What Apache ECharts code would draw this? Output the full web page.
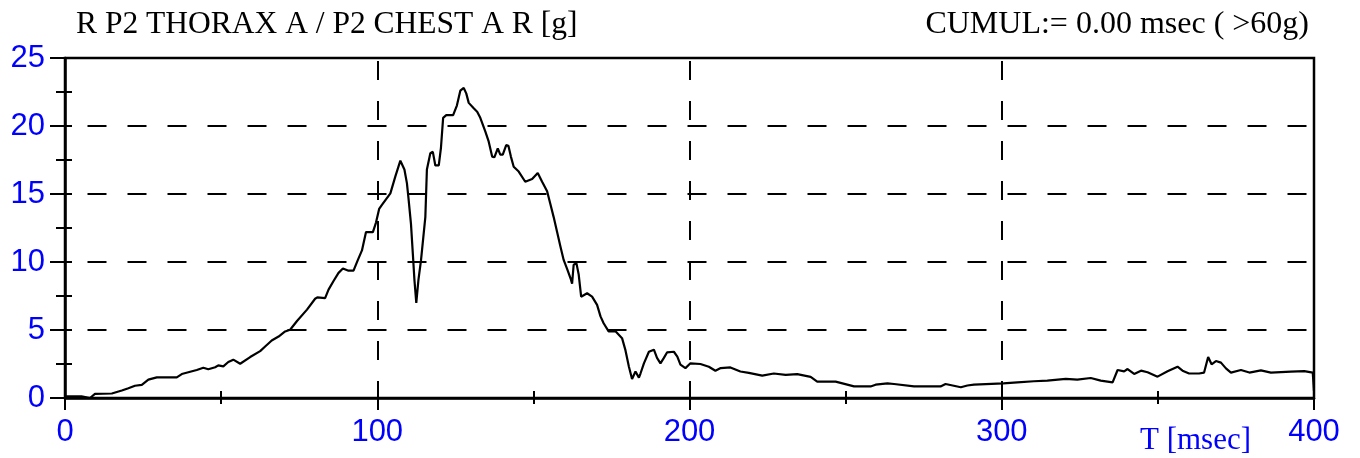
<!DOCTYPE html>
<html>
<head>
<meta charset="utf-8">
<script src="https://cdn.jsdelivr.net/npm/echarts@6/dist/echarts.min.js"></script>
<style>
  html, body { margin: 0; padding: 0; background: #ffffff; }
  #chart { width: 1360px; height: 458px; }
</style>
</head>
<body>
<div id="chart"></div>
<script>
// Chest acceleration trace: time in msec, resultant acceleration in g
const timeMs = [
  0, 5.3, 8, 9.6, 15, 15.5, 18.2, 20.3, 22.4, 24.6, 26.7, 29.4, 35.8, 37.4, 40.1, 42.2, 44.3,
  45.9, 48.1, 49.1, 50.7, 52.3, 53.9, 56.1, 59.3, 62.5, 64.1, 66.2, 68.4, 70.5, 72.1, 74.3,
  77.5, 80.1, 80.8, 83.3, 84.4, 86, 87.6, 89, 90.8, 92.4, 93.7, 95.1, 96.4, 98.6, 99.6, 100.6,
  101.5, 104.2, 105.8, 107.4, 108.7, 109.5, 110, 110.8, 111.4, 111.9, 112.5, 113.2, 114,
  115.4, 115.9, 117, 117.8, 118.6, 119.7, 120.4, 121.1, 122.1, 124.3, 125.5, 126.6, 127.7,
  128.5, 129.3, 130.9, 132, 133, 134.6, 135.7, 136.8, 137.5, 138.6, 139.4, 140.2, 141.3, 142,
  142.8, 143.7, 145.3, 147.4, 149.6, 151.4, 152.8, 154.4, 155.4, 156.5, 157.6, 158.7, 159.7,
  160.8, 161.9, 162.4, 162.9, 163.8, 164.5, 165.3, 167.2, 168.8, 170.4, 171.5, 172.5, 174.1,
  176.3, 178.4, 179.5, 180.6, 181.6, 182.7, 183.8, 184.3, 185.4, 187, 188.6, 189.6, 190.7,
  191.8, 192.8, 195, 196.1, 197.1, 198.7, 200.3, 203.5, 206.2, 208.3, 210, 213.1, 216.3,
  219, 223.3, 227, 230.8, 234.5, 238.8, 240.9, 246.8, 252.7, 258, 259.6, 263.4, 265.5,
  271.9, 280.4, 282, 286.9, 289, 291.1, 300.5, 305, 310.3, 314.6, 320.5, 324.2, 328.5,
  331.7, 335.5, 337.1, 339.2, 340.3, 342.4, 344.6, 346.7, 349.9, 353.1, 356.3, 357.9, 360,
  363.2, 364.8, 366.1, 367.2, 368.6, 370.2, 371.8, 373.4, 376.6, 379.3, 383, 386.2, 392.6,
  396.9, 399.6, 400
];
const accelG = [
  0.12, 0.12, 0.0, 0.3, 0.33, 0.47, 0.55, 0.72, 0.9, 0.97, 1.35, 1.52, 1.52, 1.76, 1.93, 2.06, 2.23,
  2.11, 2.26, 2.4, 2.33, 2.65, 2.82, 2.52, 3.01, 3.45, 3.79, 4.23, 4.52, 4.89, 5.02, 5.66,
  6.5, 7.3, 7.4, 7.35, 7.97, 8.6, 9.2, 9.52, 9.36, 9.36, 10.1, 10.85, 12.2, 12.2, 12.9, 13.9,
  14.2, 15.05, 16.3, 17.45, 16.8, 15.8, 14.7, 12.8, 10.6, 8.7, 7.0, 8.7, 10.1,
  13.3, 16.8, 18.0, 18.1, 17.1, 17.1, 18.4, 20.6, 20.8, 20.8, 21.5, 22.6, 22.8,
  22.4, 21.7, 21.3, 21.05, 20.6, 19.6, 18.85, 17.75, 17.7, 18.35, 17.9, 17.9, 18.6, 18.55,
  17.75, 17.0, 16.65, 15.9, 16.1, 16.55, 15.9, 15.2, 14.3, 13.3, 12.2, 11.1, 10.15,
  9.5, 8.8, 8.4, 9.8, 9.9, 9.1, 7.45, 7.7, 7.45, 6.85, 6.0, 5.5, 4.9,
  4.9, 4.4, 3.5, 2.3, 1.4, 1.95, 1.5, 1.8, 2.55, 3.4, 3.55, 2.95, 2.55,
  2.95, 3.35, 3.4, 3.05, 2.45, 2.2, 2.55, 2.5, 2.3, 2.0, 2.2, 2.25, 1.95,
  1.85, 1.65, 1.8, 1.7, 1.75, 1.55, 1.2, 1.2, 0.85, 0.85, 0.98, 1.08, 1.03,
  0.85, 0.85, 1.03, 0.79, 0.92, 0.98, 1.08, 1.15, 1.23, 1.28, 1.4, 1.35, 1.47,
  1.28, 1.15, 2.06, 1.96, 2.13, 1.77, 2.01, 1.89, 1.57, 1.96, 2.3, 2.01, 1.8,
  1.8, 1.87, 3.02, 2.48, 2.72, 2.6, 2.18, 1.87, 2.06, 1.87, 2.03, 1.87, 1.94,
  1.98, 1.87, 0.5
];

// Axis tick layout
const xTicks = { min: 0, max: 400, major: 100, minor: 50 };
const yTicks = { min: 0, max: 25, major: 5, minor: 2.5 };

const titleLeft = 'R P2 THORAX A / P2 CHEST A R [g]';
const titleRight = 'CUMUL:= 0.00 msec ( >60g)';
const xAxisName = 'T [msec]';

const BLUE = '#0000ff';
const serif = 'Liberation Serif, Times New Roman, serif';
const sans = 'Liberation Sans, Arial, sans-serif';

const seriesData = timeMs.map((t, i) => [t, accelG[i]]);

const chart = echarts.init(document.getElementById('chart'), null, { renderer: 'canvas' });

const dashed = { color: '#000', width: 2, type: [19, 21] };
const tickStyle = { color: '#000', width: 2 };

chart.setOption({
  animation: false,
  backgroundColor: '#ffffff',
  title: [
    { text: titleLeft, left: 76, top: 9, padding: 0,
      textStyle: { fontFamily: serif, fontSize: 31.5, fontWeight: 'normal', color: '#000' } },
    { text: titleRight, right: 51, top: 9, padding: 0,
      textStyle: { fontFamily: serif, fontSize: 32, fontWeight: 'normal', color: '#000' } },
    { text: xAxisName, left: 1140, top: 425, padding: 0,
      textStyle: { fontFamily: serif, fontSize: 31, fontWeight: 'normal', color: BLUE } }
  ],
  grid: {
    left: 65, right: 46, top: 58, bottom: 60,
    show: true, borderColor: '#000', borderWidth: 2.5, backgroundColor: 'transparent'
  },
  xAxis: [
    {
      type: 'value', min: xTicks.min, max: xTicks.max, interval: xTicks.major,
      position: 'bottom',
      axisLine: { show: true, onZero: false, lineStyle: { color: '#000', width: 2.5 } },
      axisTick: { show: true, length: 12, lineStyle: tickStyle },
      minorTick: { show: true, splitNumber: 2, length: 6, lineStyle: tickStyle },
      axisLabel: { color: BLUE, fontFamily: sans, fontSize: 31, margin: 19 },
      splitLine: { show: true, showMinLine: false, showMaxLine: false,
        lineStyle: Object.assign({ dashOffset: 37 }, dashed) }
    },
    {
      // inner half of the crossing ticks
      type: 'value', min: xTicks.min, max: xTicks.max, interval: xTicks.minor,
      position: 'bottom',
      axisLine: { show: false, onZero: false },
      axisTick: { show: true, inside: true, length: 7, lineStyle: tickStyle },
      axisLabel: { show: false },
      splitLine: { show: false }
    }
  ],
  yAxis: [
    {
      type: 'value', min: yTicks.min, max: yTicks.max, interval: yTicks.major,
      position: 'left',
      axisLine: { show: true, onZero: false, lineStyle: { color: '#000', width: 2.5 } },
      axisTick: { show: true, length: 15, lineStyle: tickStyle },
      minorTick: { show: true, splitNumber: 2, length: 9, lineStyle: tickStyle },
      axisLabel: { color: BLUE, fontFamily: sans, fontSize: 31, margin: 20 },
      splitLine: { show: true, showMinLine: false, showMaxLine: false,
        lineStyle: Object.assign({ dashOffset: 17.5 }, dashed) }
    },
    {
      type: 'value', min: yTicks.min, max: yTicks.max, interval: yTicks.minor,
      position: 'left',
      axisLine: { show: false, onZero: false },
      axisTick: { show: true, inside: true, length: 7, lineStyle: tickStyle },
      axisLabel: { show: false },
      splitLine: { show: false }
    }
  ],
  series: [
    {
      type: 'line',
      xAxisIndex: 0,
      yAxisIndex: 0,
      data: seriesData,
      showSymbol: false,
      symbol: 'none',
      lineStyle: { color: '#000', width: 2.2 },
      clip: true
    }
  ]
});
</script>
</body>
</html>
